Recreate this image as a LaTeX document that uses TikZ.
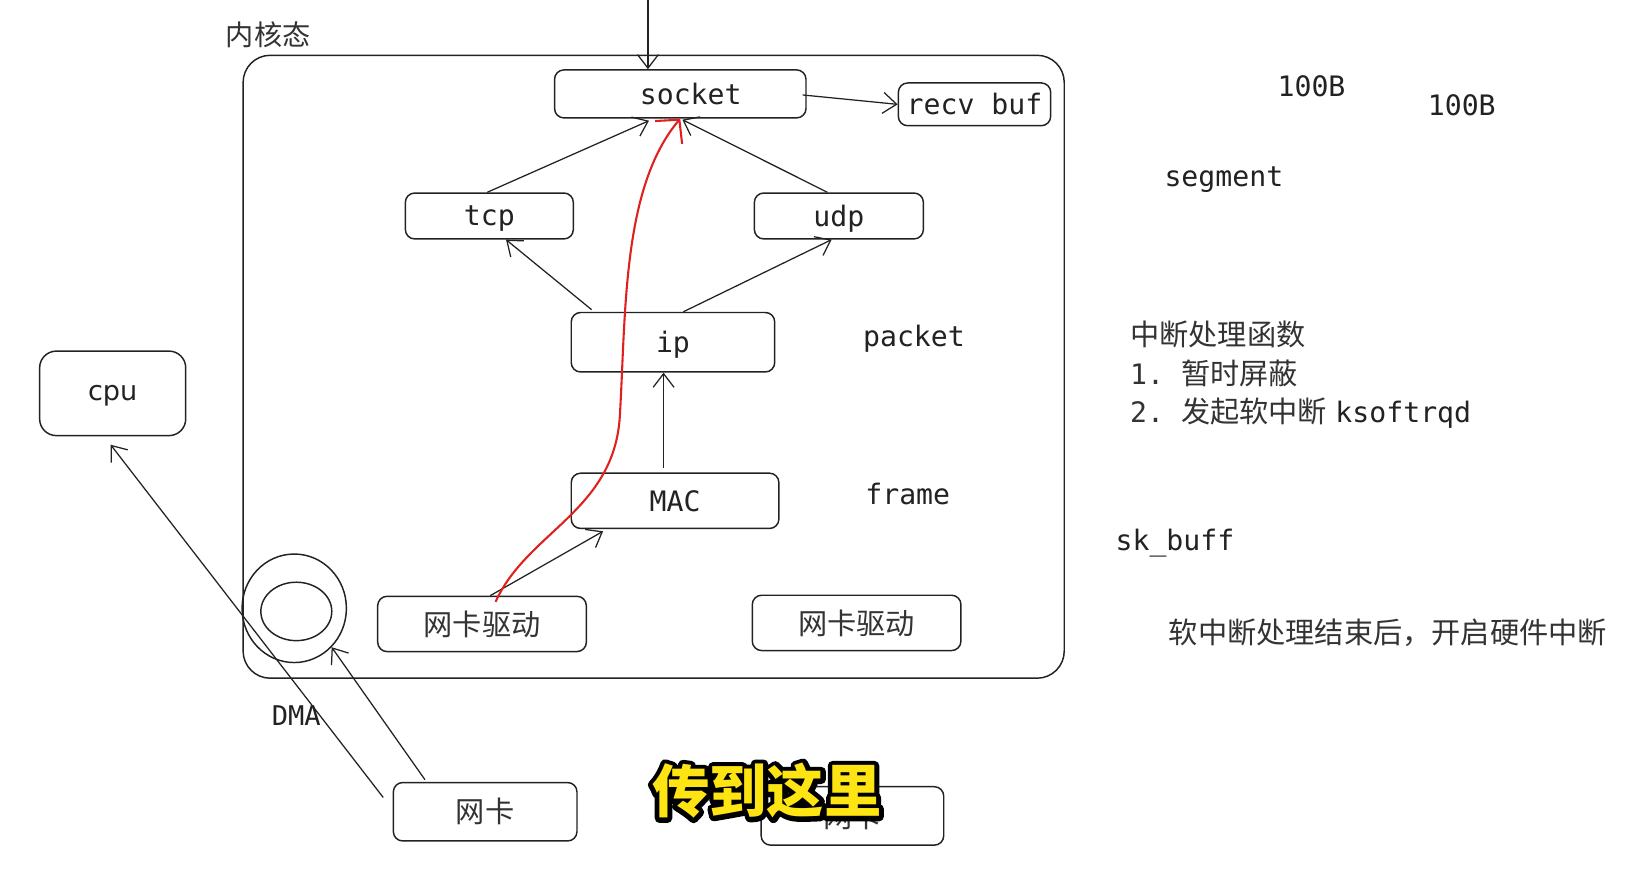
\documentclass[tikz,border=0pt]{standalone}
\usepackage{fontspec}
\usetikzlibrary{arrows.meta,shapes.geometric,calc}
\newfontfamily\cjk{Noto Sans CJK SC}
\newfontfamily\subfont{Noto Sans CJK SC}
\newfontfamily\mono{DejaVu Sans Mono}
\newfontfamily\sans{DejaVu Sans}
\definecolor{ink}{HTML}{222222}
\definecolor{cjkink}{HTML}{333333}
\definecolor{redline}{HTML}{E0201E}
\definecolor{subyellow}{HTML}{FFE414}
\tikzset{
  box/.style={draw=ink, line width=1.4pt, rounded corners=9pt, inner sep=0pt, text=ink},
  monotxt/.style={font=\mono\fontsize{27}{32}\selectfont, text=ink, inner sep=0pt},
  cjktxt/.style={font=\cjk\fontsize{28}{34}\selectfont, text=cjkink, inner sep=0pt},
  arr/.style={draw=ink, line width=1.2pt, -{Straight Barb[length=13pt,width=20pt,line width=1.2pt]}},
  redarr/.style={draw=redline, line width=2pt, -{Straight Barb[length=16pt,width=34pt,line width=2pt]}},
  ring/.style={draw=ink, line width=1.4pt, ellipse, inner sep=0pt}
}
\begin{document}
\begin{tikzpicture}[x=1pt,y=-1pt]
\useasboundingbox[fill=white] (0,0) rectangle (1568,833);

% kernel area
\node[box, rounded corners=26pt, minimum width=787pt, minimum height=597pt] (kernel) at (626.5,351.5) {};
\node[cjktxt, font=\cjk\fontsize{27}{32}\selectfont] (kernlabel) at (257,33) {内核态};

% boxes
\node[box, monotxt, draw=ink, minimum width=241pt, minimum height=46pt] (socket) at (652,90) {\hspace*{20pt}socket};
\node[box, monotxt, draw=ink, minimum width=146pt, minimum height=41pt] (recv) at (934,100) {recv buf};
\node[box, monotxt, draw=ink, text depth=0pt, minimum width=161pt, minimum height=44pt] (tcp) at (469,207) {tcp};
\node[box, monotxt, draw=ink, text depth=0pt, minimum width=162pt, minimum height=44pt] (udp) at (804,207) {udp};
\node[box, monotxt, draw=ink, text depth=0pt, minimum width=195pt, minimum height=57pt] (ip) at (645,328) {ip};
\node[box, monotxt, draw=ink, minimum width=199pt, minimum height=53pt] (mac) at (647,480) {MAC};
\node[box, cjktxt, draw=ink, minimum width=200pt, minimum height=53pt] (drv1) at (462,598) {网卡驱动};
\node[box, cjktxt, draw=ink, minimum width=200pt, minimum height=53pt] (drv2) at (821,597) {网卡驱动};
\node[box, font=\sans\fontsize{26}{30}\selectfont, text depth=0pt, minimum width=140pt, minimum height=81pt, rounded corners=16pt] (cpu) at (108,377) {cpu};
\node[box, cjktxt, draw=ink, minimum width=176pt, minimum height=56pt] (nic1) at (465,778) {网卡};
\node[box, cjktxt, draw=ink, minimum width=175pt, minimum height=56pt] (nic2) at (817,782) {网卡};

% rings
\node[ring, minimum width=100pt, minimum height=104pt] (outer) at (282,583) {};
\node[ring, minimum width=68pt, minimum height=56pt] (inner) at (284,586) {};

% labels
\node[monotxt] (packet) at (876,325) {packet};
\node[monotxt] (frame) at (870,473) {frame};
\node[monotxt] (b1) at (1257,83) {100B};
\node[monotxt] (b2) at (1401,101) {100B};
\node[monotxt] (segment) at (1173,172) {segment};
\node[cjktxt, anchor=west] (irq0) at (1083,321) {中断处理函数};
\node[cjktxt, anchor=west] (irq1) at (1083,358) {{\mono\fontsize{27}{32}\selectfont 1.~}暂时屏蔽};
\node[cjktxt, anchor=west] (irq2) at (1083,396) {{\mono\fontsize{27}{32}\selectfont 2.~}发起软中断\hspace{8pt}{\mono\fontsize{27}{32}\selectfont\color{ink}ksoftrqd}};
\node[monotxt, anchor=west] (skb) at (1069,521) {sk\char`\_buff};
\node[cjktxt, anchor=west] (softend) at (1120,606) {软中断处理结束后，开启硬件中断};
\node[monotxt, font=\mono\fontsize{26}{30}\selectfont] (dma) at (284,686) {DMA};

% connectors
\coordinate (topin) at (621,0);
\draw[arr] (topin) -- (topin |- socket.north);
\draw[arr] ($(socket.east)+(-4,1)$) -- (recv.west);
\draw[arr] ($(tcp.north)+(-2,0)$) -- ($(socket.south)+(-30,2)$);
\draw[arr] ($(udp.north)+(-11,0)$) -- ($(socket.south)+(2,1)$);
\draw[arr] ($(ip.north)+(-78,-2)$) -- ($(tcp.south)+(16,0)$);
\draw[arr] ($(ip.north)+(10,0)$) -- ($(udp.south)+(-7,0)$);
\draw[arr] ($(mac.north)+(-11,-4)$) -- ($(ip.south)+(-9,0)$);
\draw[arr] ($(drv1.north)+(8,0)$) -- ($(mac.south)+(-69,2)$);
\draw[arr] ($(nic1.north west)+(-9,15)$) -- ($(cpu.south)+(-2,8)$);
\draw[arr] ($(nic1.north west)+(31,-2)$) -- (outer.south east);

% red path
\draw[redarr] ($(drv1.north)+(13,6)$) .. controls (505,510) and (588,490) .. (594,400)
  .. controls (600,300) and (596,180) .. (socket.south);

% subtitle: black stroked outline under yellow fill
\node[font=\subfont\bfseries\fontsize{55}{60}\selectfont, text=black, inner sep=0pt] (subo) at (735,758)
  {\special{pdf:literal direct q 1 Tr 9 w 1 j 0 0 0 RG}传到这里\special{pdf:literal direct Q}};
\node[font=\subfont\bfseries\fontsize{55}{60}\selectfont, text=subyellow, inner sep=0pt] (sub) at (735,758) {传到这里};
\end{tikzpicture}
\end{document}
